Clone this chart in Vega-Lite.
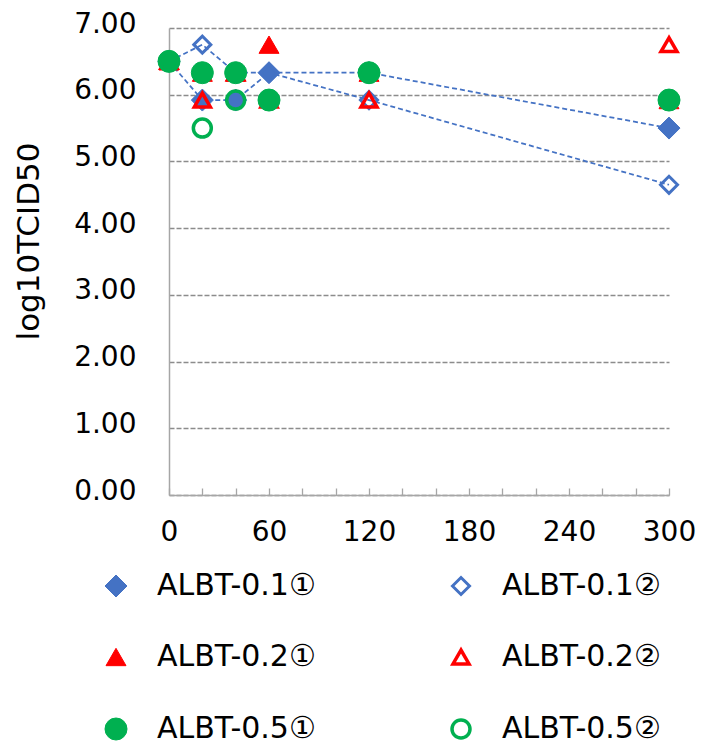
{
  "$schema": "https://vega.github.io/schema/vega-lite/v6.json",
  "width": 500,
  "height": 467,
  "autosize": "none",
  "padding": {"left": 169, "top": 28, "right": 32, "bottom": 249},
  "background": "white",
  "config": {
    "view": {"stroke": null},
    "font": "DejaVu Sans",
    "axis": {"labelFont": "DejaVu Sans", "labelFontSize": 28, "labelColor": "#000000", "titleFont": "DejaVu Sans", "titleColor": "#000000", "titleFontWeight": "normal"},
    "legend": {
      "labelFont": "DejaVu Sans", "orient": "none", "legendX": -68, "legendY": 543,
      "direction": "horizontal", "columns": 2,
      "labelFontSize": 30, "labelColor": "#000000", "labelLimit": 400,
      "symbolSize": 324, "labelOffset": 26,
      "columnPadding": 129, "rowPadding": 41, "padding": 0
    }
  },
  "data": {
    "values": [
      {"series": "ALBT-0.1①", "t": 0, "v": 6.5},
      {"series": "ALBT-0.1①", "t": 20, "v": 5.92},
      {"series": "ALBT-0.1①", "t": 40, "v": 5.92},
      {"series": "ALBT-0.1①", "t": 60, "v": 6.33},
      {"series": "ALBT-0.1①", "t": 120, "v": 6.33},
      {"series": "ALBT-0.1①", "t": 300, "v": 5.5},
      {"series": "ALBT-0.1②", "t": 0, "v": 6.5},
      {"series": "ALBT-0.1②", "t": 20, "v": 6.75},
      {"series": "ALBT-0.1②", "t": 40, "v": 6.33},
      {"series": "ALBT-0.1②", "t": 60, "v": 6.33},
      {"series": "ALBT-0.1②", "t": 120, "v": 5.92},
      {"series": "ALBT-0.1②", "t": 300, "v": 4.65},
      {"series": "ALBT-0.2①", "t": 0, "v": 6.5},
      {"series": "ALBT-0.2①", "t": 20, "v": 6.33},
      {"series": "ALBT-0.2①", "t": 40, "v": 6.33},
      {"series": "ALBT-0.2①", "t": 60, "v": 6.75},
      {"series": "ALBT-0.2①", "t": 120, "v": 6.33},
      {"series": "ALBT-0.2①", "t": 300, "v": 5.92},
      {"series": "ALBT-0.2②", "t": 0, "v": 6.5},
      {"series": "ALBT-0.2②", "t": 20, "v": 5.92},
      {"series": "ALBT-0.2②", "t": 40, "v": 6.33},
      {"series": "ALBT-0.2②", "t": 60, "v": 5.92},
      {"series": "ALBT-0.2②", "t": 120, "v": 5.92},
      {"series": "ALBT-0.2②", "t": 300, "v": 6.75},
      {"series": "ALBT-0.5①", "t": 0, "v": 6.5},
      {"series": "ALBT-0.5①", "t": 20, "v": 6.33},
      {"series": "ALBT-0.5①", "t": 40, "v": 6.33},
      {"series": "ALBT-0.5①", "t": 60, "v": 5.92},
      {"series": "ALBT-0.5①", "t": 120, "v": 6.33},
      {"series": "ALBT-0.5①", "t": 300, "v": 5.92},
      {"series": "ALBT-0.5②", "t": 0, "v": 6.5},
      {"series": "ALBT-0.5②", "t": 20, "v": 5.5},
      {"series": "ALBT-0.5②", "t": 40, "v": 5.92},
      {"series": "ALBT-0.5②", "t": 60, "v": 5.92},
      {"series": "ALBT-0.5②", "t": 120, "v": 6.33},
      {"series": "ALBT-0.5②", "t": 300, "v": 5.92}
    ]
  },
  "encoding": {
    "x": {
      "field": "t", "type": "quantitative",
      "scale": {"domain": [0, 300], "nice": false, "zero": false},
      "axis": {
        "title": null,
        "values": [0, 20, 40, 60, 80, 100, 120, 140, 160, 180, 200, 220, 240, 260, 280, 300],
        "labelExpr": "datum.value % 60 === 0 ? datum.label : ''",
        "labelOverlap": false, "labelFlush": false,
        "grid": false, "tickSize": -7, "tickColor": "#a6a6a6", "tickWidth": 1.3,
        "domainColor": "#a6a6a6", "domainWidth": 1.5, "labelPadding": 30
      }
    },
    "y": {
      "field": "v", "type": "quantitative",
      "scale": {"domain": [0, 7], "nice": false},
      "axis": {
        "title": "log10TCID50",
        "values": [0, 1, 2, 3, 4, 5, 6, 7],
        "format": ".2f",
        "grid": true, "gridDash": [5, 2], "gridColor": "#8c8c8c", "gridWidth": 1.3,
        "ticks": false, "domainColor": "#a6a6a6", "domainWidth": 1.5,
        "labelPadding": 33, "labelOffset": -4,
        "titleFontSize": 31, "titlePadding": 28, "titleY": 213
      }
    }
  },
  "layer": [
    {
      "transform": [{"filter": "indexof(datum.series, '0.1') >= 0"}],
      "mark": {"type": "line", "strokeDash": [5, 3], "strokeWidth": 1.75, "color": "#4472C4"},
      "encoding": {"detail": {"field": "series", "type": "nominal"}}
    },
    {
      "mark": {"type": "point", "opacity": 1},
      "encoding": {
        "fill": {
          "field": "series", "type": "nominal",
          "scale": {
            "domain": ["ALBT-0.1①", "ALBT-0.1②", "ALBT-0.2①", "ALBT-0.2②", "ALBT-0.5①", "ALBT-0.5②"],
            "range": ["#4472C4", "transparent", "#FF0000", "transparent", "#00B050", "transparent"]
          },
          "legend": {
            "title": null,
            "encode": {
              "symbols": {
                "shape": {"value": {"expr": "datum.value === 'ALBT-0.1①' ? 'M0,-1L1,0L0,1L-1,0Z M-3.8,-0.08L-3.36,-0.08L-3.36,0.08L-3.8,0.08Z M-3.03,-0.08L-2.59,-0.08L-2.59,0.08L-3.03,0.08Z M-2.26,-0.08L-1.82,-0.08L-1.82,0.08L-2.26,0.08Z M-1.49,-0.08L-1.05,-0.08L-1.05,0.08L-1.49,0.08Z M1.05,-0.08L1.49,-0.08L1.49,0.08L1.05,0.08Z M1.82,-0.08L2.26,-0.08L2.26,0.08L1.82,0.08Z M2.59,-0.08L3.03,-0.08L3.03,0.08L2.59,0.08Z M3.36,-0.08L3.8,-0.08L3.8,0.08L3.36,0.08Z' : datum.value === 'ALBT-0.1②' ? 'M0,-1L1,0L0,1L-1,0Z M0,-0.5L-0.5,0L0,0.5L0.5,0Z M-3.8,-0.08L-3.36,-0.08L-3.36,0.08L-3.8,0.08Z M-3.03,-0.08L-2.59,-0.08L-2.59,0.08L-3.03,0.08Z M-2.26,-0.08L-1.82,-0.08L-1.82,0.08L-2.26,0.08Z M-1.49,-0.08L-1.05,-0.08L-1.05,0.08L-1.49,0.08Z M1.05,-0.08L1.49,-0.08L1.49,0.08L1.05,0.08Z M1.82,-0.08L2.26,-0.08L2.26,0.08L1.82,0.08Z M2.59,-0.08L3.03,-0.08L3.03,0.08L2.59,0.08Z M3.36,-0.08L3.8,-0.08L3.8,0.08L3.36,0.08Z' : scale('shape', datum.value)"}},
                "fill": {"value": {"expr": "datum.value === 'ALBT-0.1②' ? '#4472C4' : scale('fill', datum.value)"}},
                "strokeWidth": {"value": {"expr": "(datum.value === 'ALBT-0.2②' || datum.value === 'ALBT-0.5②') ? 3.5 : 0"}},
                "size": {"value": {"expr": "datum.value === 'ALBT-0.2②' ? 196 : datum.value === 'ALBT-0.5②' ? 169 : (datum.value === 'ALBT-0.1①' || datum.value === 'ALBT-0.1②') ? 324 : 289"}}
              }
            }
          }
        },
        "stroke": {
          "field": "series", "type": "nominal",
          "scale": {
            "domain": ["ALBT-0.1①", "ALBT-0.1②", "ALBT-0.2①", "ALBT-0.2②", "ALBT-0.5①", "ALBT-0.5②"],
            "range": ["#4472C4", "#4472C4", "#FF0000", "#FF0000", "#00B050", "#00B050"]
          },
          "legend": {"title": null}
        },
        "strokeWidth": {
          "field": "series", "type": "nominal",
          "scale": {
            "type": "ordinal",
            "domain": ["ALBT-0.1①", "ALBT-0.1②", "ALBT-0.2①", "ALBT-0.2②", "ALBT-0.5①", "ALBT-0.5②"],
            "range": [1, 3, 1, 3.5, 1, 3.5]
          },
          "legend": {"title": null}
        },
        "size": {
          "field": "series", "type": "nominal",
          "scale": {
            "type": "ordinal",
            "domain": ["ALBT-0.1①", "ALBT-0.1②", "ALBT-0.2①", "ALBT-0.2②", "ALBT-0.5①", "ALBT-0.5②"],
            "range": [484, 289, 400, 256, 484, 324]
          },
          "legend": {"title": null}
        },
        "shape": {
          "field": "series", "type": "nominal",
          "scale": {
            "domain": ["ALBT-0.1①", "ALBT-0.1②", "ALBT-0.2①", "ALBT-0.2②", "ALBT-0.5①", "ALBT-0.5②"],
            "range": ["diamond", "diamond", "triangle-up", "triangle-up", "circle", "circle"]
          },
          "legend": {"title": null}
        }
      }
    }
  ]
}
